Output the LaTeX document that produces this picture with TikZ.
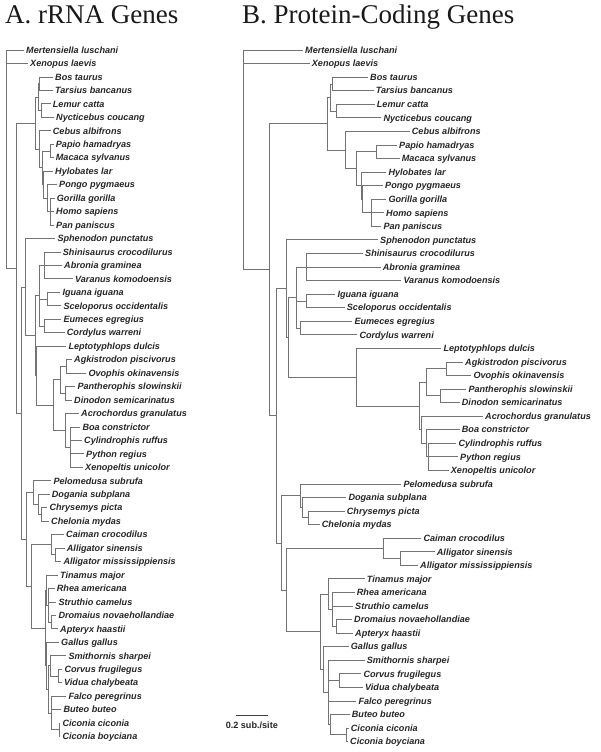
\documentclass[tikz,border=0pt]{standalone}
\usepackage{fontspec}
\setmainfont{Liberation Sans}
\newfontfamily\titlefont{Liberation Serif}
\usetikzlibrary{calc}
\newcommand\la[4]{\coordinate (#1) at (#2,{50+13.46*#3}); \node[lab] (t#1) at (#1) {#4};}
\newcommand\lb[4]{\coordinate (#1) at (#2,{50+13.56*#3}); \node[lab] (t#1) at (#1) {#4};}
\newcommand\inod[4]{\coordinate (tmpmid) at ($(#3)!0.5!(#4)$); \coordinate (#1) at (#2,0 |- tmpmid);}
\newcommand\ed[2]{\foreach \c in {#2}{\draw[br] (#1) |- (\c);}}
\begin{document}
\begin{tikzpicture}[x=1pt,y=-1pt,
  br/.style={draw=black!55,line width=0.7pt},
  lab/.style={anchor=base west,inner xsep=2pt,inner ysep=0pt,yshift=-3.3pt,
    font=\fontsize{9.1}{10}\selectfont\bfseries\itshape,text=black!85},
  ttl/.style={anchor=base west,inner sep=0pt,font=\fontsize{27}{30}\selectfont\titlefont,text=black!90}]
\useasboundingbox (0,0) rectangle (600,752);
\node[ttl] (titleA) at (5,24) {A. rRNA Genes};
\node[ttl] (titleB) at (242,24) {B. Protein-Coding Genes};
% ---------- left tree leaves
\la{a0}{24}{0}{Mertensiella luschani}
\la{a1}{28}{1}{Xenopus laevis}
\la{a2}{53}{2}{Bos taurus}
\la{a3}{53}{3}{Tarsius bancanus}
\la{a4}{50.7}{4}{Lemur catta}
\la{a5}{54}{5}{Nycticebus coucang}
\la{a6}{50.7}{6}{Cebus albifrons}
\la{a7}{53.7}{7}{Papio hamadryas}
\la{a8}{53.7}{8}{Macaca sylvanus}
\la{a9}{53}{9}{Hylobates lar}
\la{a10}{57}{10}{Pongo pygmaeus}
\la{a11}{54.7}{11}{Gorilla gorilla}
\la{a12}{54}{12}{Homo sapiens}
\la{a13}{54}{13}{Pan paniscus}
\la{a14}{55.3}{14}{Sphenodon punctatus}
\la{a15}{60.7}{15}{Shinisaurus crocodilurus}
\la{a16}{62}{16}{Abronia graminea}
\la{a17}{73}{17}{Varanus komodoensis}
\la{a18}{60.3}{18}{Iguana iguana}
\la{a19}{61.3}{19}{Sceloporus occidentalis}
\la{a20}{61.3}{20}{Eumeces egregius}
\la{a21}{64.7}{21}{Cordylus warreni}
\la{a22}{66.3}{22}{Leptotyphlops dulcis}
\la{a23}{72}{23}{Agkistrodon piscivorus}
\la{a24}{86.3}{24}{Ovophis okinavensis}
\la{a25}{75.3}{25}{Pantherophis slowinskii}
\la{a26}{72}{26}{Dinodon semicarinatus}
\la{a27}{79}{27}{Acrochordus granulatus}
\la{a28}{80.3}{28}{Boa constrictor}
\la{a29}{82}{29}{Cylindrophis ruffus}
\la{a30}{84}{30}{Python regius}
\la{a31}{83}{31}{Xenopeltis unicolor}
\la{a32}{51.3}{32}{Pelomedusa subrufa}
\la{a33}{49.7}{33}{Dogania subplana}
\la{a34}{47.3}{34}{Chrysemys picta}
\la{a35}{49}{35}{Chelonia mydas}
\la{a36}{64}{36}{Caiman crocodilus}
\la{a37}{64.7}{37}{Alligator sinensis}
\la{a38}{61.3}{38}{Alligator mississippiensis}
\la{a39}{58}{39}{Tinamus major}
\la{a40}{54.7}{40}{Rhea americana}
\la{a41}{56.3}{41}{Struthio camelus}
\la{a42}{56.3}{42}{Dromaius novaehollandiae}
\la{a43}{58}{43}{Apteryx haastii}
\la{a44}{59}{44}{Gallus gallus}
\la{a45}{66.3}{45}{Smithornis sharpei}
\la{a46}{62.3}{46}{Corvus frugilegus}
\la{a47}{62}{47}{Vidua chalybeata}
\la{a48}{66.3}{48}{Falco peregrinus}
\la{a49}{61.3}{49}{Buteo buteo}
\la{a50}{60.3}{50}{Ciconia ciconia}
\la{a51}{60.3}{51}{Ciconia boyciana}
% ---------- left tree internal nodes
\inod{BTa}{39.3}{a2}{a3}
\inod{LNa}{41.7}{a4}{a5}
\inod{BTLNa}{38}{BTa}{LNa}
\inod{PMa}{50}{a7}{a8}
\inod{GHPa}{50}{a11}{a13}
\inod{GAa}{47}{a10}{GHPa}
\inod{Apea}{43.5}{a9}{GAa}
\inod{Cata}{42}{PMa}{Apea}
\inod{Antha}{39.3}{a6}{Cata}
\inod{Mama}{35}{BTLNa}{Antha}
\inod{Anga}{44.7}{a15}{a17}
\inod{Igua}{47.7}{a18}{a19}
\inod{Scia}{44}{a20}{a21}
\inod{NSa}{39.3}{Anga}{Scia}
\inod{Vipa}{66.7}{a23}{a24}
\inod{Cola}{65}{a25}{a26}
\inod{Colra}{60}{Vipa}{Cola}
\inod{Boida}{70}{a28}{a31}
\inod{ABa}{65}{a27}{Boida}
\inod{Aletha}{53.3}{Colra}{ABa}
\inod{Snka}{36}{a22}{Aletha}
\inod{Sqa}{35}{NSa}{Snka}
\inod{Lepa}{25}{a14}{Sqa}
\inod{CCa}{41.7}{a34}{a35}
\inod{DCCa}{38.3}{a33}{CCa}
\inod{Turta}{33.3}{a32}{DCCa}
\inod{Alla}{55}{a37}{a38}
\inod{Croca}{51.7}{a36}{Alla}
\inod{DAa}{51.7}{a42}{a43}
\inod{Ratia}{48.3}{a40}{DAa}
\inod{Palaa}{46.7}{a39}{Ratia}
\inod{CVa}{58.3}{a46}{a47}
\inod{SCVa}{50}{a45}{CVa}
\inod{CCia}{59.3}{a50}{a51}
\inod{FBCa}{51.7}{a48}{CCia}
\inod{Neoava}{48.3}{SCVa}{FBCa}
\inod{Neoga}{46.7}{a44}{Neoava}
\inod{Birda}{45}{Palaa}{Neoga}
\inod{Archa}{31.7}{Croca}{Birda}
\inod{Arca}{26.7}{Turta}{Archa}
\inod{Repa}{21.7}{Lepa}{Arca}
\inod{Amna}{16.7}{Mama}{Repa}
\inod{Roota}{6.7}{a0}{Amna}
% ---------- left tree branches
\ed{Roota}{a0,a1,Amna}
\ed{Amna}{Mama,Repa}
\ed{Mama}{BTLNa,Antha}
\ed{BTLNa}{BTa,LNa}
\ed{BTa}{a2,a3}
\ed{LNa}{a4,a5}
\ed{Antha}{a6,Cata}
\ed{Cata}{PMa,Apea}
\ed{PMa}{a7,a8}
\ed{Apea}{a9,GAa}
\ed{GAa}{a10,GHPa}
\ed{GHPa}{a11,a12,a13}
\ed{Repa}{Lepa,Arca}
\ed{Lepa}{a14,Sqa}
\ed{Sqa}{NSa,Snka}
\ed{NSa}{Anga,Igua,Scia}
\ed{Anga}{a15,a16,a17}
\ed{Igua}{a18,a19}
\ed{Scia}{a20,a21}
\ed{Snka}{a22,Aletha}
\ed{Aletha}{Colra,ABa}
\ed{Colra}{Vipa,Cola}
\ed{Vipa}{a23,a24}
\ed{Cola}{a25,a26}
\ed{ABa}{a27,Boida}
\ed{Boida}{a28,a29,a30,a31}
\ed{Arca}{Turta,Archa}
\ed{Turta}{a32,DCCa}
\ed{DCCa}{a33,CCa}
\ed{CCa}{a34,a35}
\ed{Archa}{Croca,Birda}
\ed{Croca}{a36,Alla}
\ed{Alla}{a37,a38}
\ed{Birda}{Palaa,Neoga}
\ed{Palaa}{a39,Ratia}
\ed{Ratia}{a40,a41,DAa}
\ed{DAa}{a42,a43}
\ed{Neoga}{a44,Neoava}
\ed{Neoava}{SCVa,FBCa}
\ed{SCVa}{a45,CVa}
\ed{CVa}{a46,a47}
\ed{FBCa}{a48,a49,CCia}
\ed{CCia}{a50,a51}
% ---------- right tree leaves
\lb{b0}{303}{0}{Mertensiella luschani}
\lb{b1}{309.7}{1}{Xenopus laevis}
\lb{b2}{368}{2}{Bos taurus}
\lb{b3}{373.7}{3}{Tarsius bancanus}
\lb{b4}{374.7}{4}{Lemur catta}
\lb{b5}{381.3}{5}{Nycticebus coucang}
\lb{b6}{409.7}{6}{Cebus albifrons}
\lb{b7}{397}{7}{Papio hamadryas}
\lb{b8}{399.7}{8}{Macaca sylvanus}
\lb{b9}{386.3}{9}{Hylobates lar}
\lb{b10}{383}{10}{Pongo pygmaeus}
\lb{b11}{386.3}{11}{Gorilla gorilla}
\lb{b12}{384}{12}{Homo sapiens}
\lb{b13}{381.3}{13}{Pan paniscus}
\lb{b14}{378}{14}{Sphenodon punctatus}
\lb{b15}{363}{15}{Shinisaurus crocodilurus}
\lb{b16}{380.7}{16}{Abronia graminea}
\lb{b17}{401.3}{17}{Varanus komodoensis}
\lb{b18}{335.3}{18}{Iguana iguana}
\lb{b19}{344.7}{19}{Sceloporus occidentalis}
\lb{b20}{352.3}{20}{Eumeces egregius}
\lb{b21}{357.3}{21}{Cordylus warreni}
\lb{b22}{441.3}{22}{Leptotyphlops dulcis}
\lb{b23}{463}{23}{Agkistrodon piscivorus}
\lb{b24}{471.3}{24}{Ovophis okinavensis}
\lb{b25}{466.3}{25}{Pantherophis slowinskii}
\lb{b26}{459.7}{26}{Dinodon semicarinatus}
\lb{b27}{483}{27}{Acrochordus granulatus}
\lb{b28}{459.7}{28}{Boa constrictor}
\lb{b29}{456.3}{29}{Cylindrophis ruffus}
\lb{b30}{458}{30}{Python regius}
\lb{b31}{448.7}{31}{Xenopeltis unicolor}
\lb{b32}{401.3}{32}{Pelomedusa subrufa}
\lb{b33}{346.3}{33}{Dogania subplana}
\lb{b34}{344.7}{34}{Chrysemys picta}
\lb{b35}{319.7}{35}{Chelonia mydas}
\lb{b36}{421.3}{36}{Caiman crocodilus}
\lb{b37}{434.7}{37}{Alligator sinensis}
\lb{b38}{418}{38}{Alligator mississippiensis}
\lb{b39}{364.7}{39}{Tinamus major}
\lb{b40}{354.7}{40}{Rhea americana}
\lb{b41}{353}{41}{Struthio camelus}
\lb{b42}{352}{42}{Dromaius novaehollandiae}
\lb{b43}{353}{43}{Apteryx haastii}
\lb{b44}{348.7}{44}{Gallus gallus}
\lb{b45}{364.7}{45}{Smithornis sharpei}
\lb{b46}{361.3}{46}{Corvus frugilegus}
\lb{b47}{363}{47}{Vidua chalybeata}
\lb{b48}{356.3}{48}{Falco peregrinus}
\lb{b49}{349.7}{49}{Buteo buteo}
\lb{b50}{348.7}{50}{Ciconia ciconia}
\lb{b51}{348}{51}{Ciconia boyciana}
% ---------- right tree internal nodes
\inod{BTb}{332.7}{b2}{b3}
\inod{LNb}{336.7}{b4}{b5}
\inod{BTLNb}{330}{BTb}{LNb}
\inod{PMb}{376.7}{b7}{b8}
\inod{GHPb}{371.7}{b11}{b13}
\inod{GAb}{362.3}{b10}{GHPb}
\inod{Apeb}{361.7}{b9}{GAb}
\inod{Catb}{356.7}{PMb}{Apeb}
\inod{Anthb}{345}{b6}{Catb}
\inod{Mamb}{327.7}{BTLNb}{Anthb}
\inod{Angb}{306.7}{b15}{b17}
\inod{Igub}{306}{b18}{b19}
\inod{Scib}{300}{b20}{b21}
\inod{NSb}{296.7}{Angb}{Scib}
\inod{Vipb}{446.7}{b23}{b24}
\inod{Colb}{440}{b25}{b26}
\inod{Colrb}{426}{Vipb}{Colb}
\inod{CPXb}{428.3}{b29}{b31}
\inod{Boidb}{426.7}{b28}{CPXb}
\inod{ABb}{421.7}{b27}{Boidb}
\inod{Alethb}{419.3}{Colrb}{ABb}
\inod{Snkb}{356.7}{b22}{Alethb}
\inod{Sqb}{288}{NSb}{Snkb}
\inod{Lepb}{286.7}{b14}{Sqb}
\inod{CCb}{308.3}{b34}{b35}
\inod{DCCb}{302.3}{b33}{CCb}
\inod{Turtb}{300}{b32}{DCCb}
\inod{Allb}{400}{b37}{b38}
\inod{Crocb}{383.3}{b36}{Allb}
\inod{DAb}{336.7}{b42}{b43}
\inod{Ratib}{332}{b40}{DAb}
\inod{Palab}{328.3}{b39}{Ratib}
\inod{CVb}{339.3}{b46}{b47}
\inod{CCib}{346.7}{b50}{b51}
\inod{BCb}{330}{b49}{CCib}
\inod{Neoavb}{328.3}{b45}{BCb}
\inod{Neogb}{323.3}{b44}{Neoavb}
\inod{Birdb}{320}{Palab}{Neogb}
\inod{Archb}{286}{Crocb}{Birdb}
\inod{Arcb}{281.7}{Turtb}{Archb}
\inod{Repb}{276.7}{Lepb}{Arcb}
\inod{Amnb}{269}{Mamb}{Repb}
\inod{Rootb}{243.3}{b0}{Amnb}
% ---------- right tree branches
\ed{Rootb}{b0,b1,Amnb}
\ed{Amnb}{Mamb,Repb}
\ed{Mamb}{BTLNb,Anthb}
\ed{BTLNb}{BTb,LNb}
\ed{BTb}{b2,b3}
\ed{LNb}{b4,b5}
\ed{Anthb}{b6,Catb}
\ed{Catb}{PMb,Apeb}
\ed{PMb}{b7,b8}
\ed{Apeb}{b9,GAb}
\ed{GAb}{b10,GHPb}
\ed{GHPb}{b11,b12,b13}
\ed{Repb}{Lepb,Arcb}
\ed{Lepb}{b14,Sqb}
\ed{Sqb}{NSb,Snkb}
\ed{NSb}{Angb,Igub,Scib}
\ed{Angb}{b15,b16,b17}
\ed{Igub}{b18,b19}
\ed{Scib}{b20,b21}
\ed{Snkb}{b22,Alethb}
\ed{Alethb}{Colrb,ABb}
\ed{Colrb}{Vipb,Colb}
\ed{Vipb}{b23,b24}
\ed{Colb}{b25,b26}
\ed{ABb}{b27,Boidb}
\ed{Boidb}{b28,CPXb}
\ed{CPXb}{b29,b30,b31}
\ed{Arcb}{Turtb,Archb}
\ed{Turtb}{b32,DCCb}
\ed{DCCb}{b33,CCb}
\ed{CCb}{b34,b35}
\ed{Archb}{Crocb,Birdb}
\ed{Crocb}{b36,Allb}
\ed{Allb}{b37,b38}
\ed{Birdb}{Palab,Neogb}
\ed{Palab}{b39,Ratib}
\ed{Ratib}{b40,b41,DAb}
\ed{DAb}{b42,b43}
\ed{Neogb}{b44,Neoavb}
\ed{Neoavb}{b45,CVb,b48,BCb}
\ed{CVb}{b46,b47}
\ed{BCb}{b49,CCib}
\ed{CCib}{b50,b51}
% ---------- scale bar
\coordinate (sbL) at (236,715);
\coordinate (sbR) at (267.7,715);
\draw[black!75,line width=1pt] (sbL) -- (sbR);
\node[anchor=base,inner sep=0pt,font=\fontsize{9.1}{10}\selectfont\bfseries,text=black!85] (sbT) at (251.8,728.5) {0.2 sub./site};
\end{tikzpicture}
\end{document}
